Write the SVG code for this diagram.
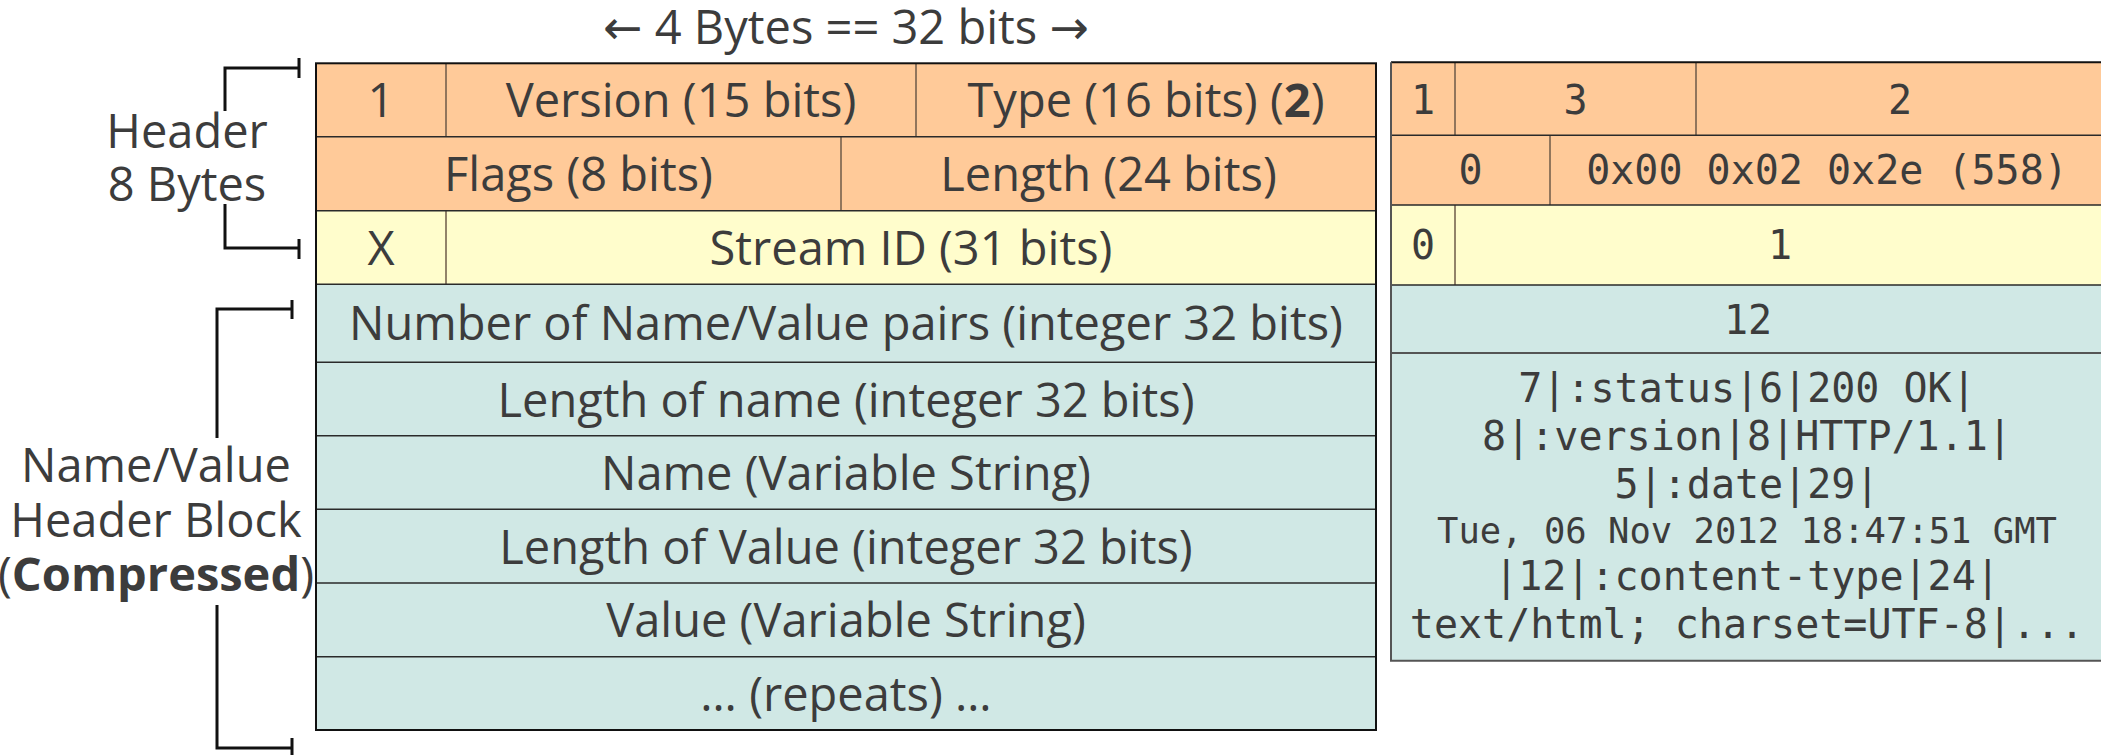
<svg xmlns="http://www.w3.org/2000/svg" width="2101" height="755" viewBox="0 0 2101 755">
<style>
.s{font-family:"Open Sans","Noto Sans","DejaVu Sans",sans-serif;font-size:47px;fill:#3c3c3c;text-anchor:middle}
.m{font-family:"DejaVu Sans Mono","Liberation Mono",monospace;font-size:40px;fill:#3c3c3c;text-anchor:middle}
.sm{font-size:35.5px}
.o{fill:#ffca99}
.y{fill:#fffdcc}
.c{fill:#d0e8e5}
.div{stroke:#6e5a48;stroke-width:1.5;fill:none}
.row{stroke:#2a2a2a;stroke-width:1.5;fill:none}
.edge{stroke:#111;stroke-width:2;fill:none}
.br{stroke:#111;stroke-width:3;fill:none}
</style>
<rect width="2101" height="755" fill="#ffffff"/>
<g id="title"><text class="s" x="846" y="44">← 4 Bytes == 32 bits →</text></g>
<g id="connectors">
<path class="br" d="M299,58 V78 M299,68 H225 V111 M225,204 V248 H299 M299,239 V259"/>
<path class="br" d="M292,300 V319 M292,309 H217 V438 M217,605 V748 H292 M292,738 V760"/>
</g>
<g id="label-header">
<text class="s" x="187" y="148">Header</text>
<text class="s" x="187" y="201">8 Bytes</text>
</g>
<g id="label-namevalue">
<text class="s" x="156" y="482">Name/Value</text>
<text class="s" x="156" y="537">Header Block</text>
<text class="s" x="156" y="591">(<tspan font-weight="bold">Compressed</tspan>)</text>
</g>
<g id="frame">
<g id="row1">
<rect class="o" x="316" y="63.3" width="1060" height="73.4"/>
<path class="div" d="M446,63.3 V136.7 M916,63.3 V136.7"/>
<text class="s" x="381" y="117">1</text>
<text class="s" x="681" y="117">Version (15 bits)</text>
<text class="s" x="1146" y="117">Type (16 bits) (<tspan font-weight="bold">2</tspan>)</text>
</g>
<g id="row2">
<rect class="o" x="316" y="136.7" width="1060" height="74"/>
<path class="div" d="M841,136.7 V210.7"/>
<text class="s" x="578.5" y="191">Flags (8 bits)</text>
<text class="s" x="1108.5" y="191">Length (24 bits)</text>
</g>
<g id="row3">
<rect class="y" x="316" y="210.7" width="1060" height="73.6"/>
<path class="div" d="M446,210.7 V284.3"/>
<text class="s" x="381" y="264.5">X</text>
<text class="s" x="911" y="264.5">Stream ID (31 bits)</text>
</g>
<g id="row4">
<rect class="c" x="316" y="284.3" width="1060" height="78"/>
<text class="s" x="846" y="339.5">Number of Name/Value pairs (integer 32 bits)</text>
</g>
<g id="row5">
<rect class="c" x="316" y="362.3" width="1060" height="73.4"/>
<text class="s" x="846" y="416.5">Length of name (integer 32 bits)</text>
</g>
<g id="row6">
<rect class="c" x="316" y="435.7" width="1060" height="73.6"/>
<text class="s" x="846" y="490">Name (Variable String)</text>
</g>
<g id="row7">
<rect class="c" x="316" y="509.3" width="1060" height="73.7"/>
<text class="s" x="846" y="563.5">Length of Value (integer 32 bits)</text>
</g>
<g id="row8">
<rect class="c" x="316" y="583" width="1060" height="73.7"/>
<text class="s" x="846" y="637">Value (Variable String)</text>
</g>
<g id="row9">
<rect class="c" x="316" y="656.7" width="1060" height="73.3"/>
<text class="s" x="846" y="711">… (repeats) …</text>
</g>
<path class="row" d="M316,136.7 H1376 M316,210.7 H1376 M316,284.3 H1376 M316,362.3 H1376 M316,435.7 H1376 M316,509.3 H1376 M316,583 H1376 M316,656.7 H1376"/>
<rect class="edge" x="316" y="63.3" width="1060" height="666.7"/>
</g>
<g id="example">
<g id="ex-row1">
<rect class="o" x="1391" y="62.3" width="720" height="73"/>
<path class="div" d="M1455,62.3 V135.3 M1696,62.3 V135.3"/>
<text class="m" x="1423" y="114">1</text>
<text class="m" x="1575.5" y="114">3</text>
<text class="m" x="1900" y="114">2</text>
</g>
<g id="ex-row2">
<rect class="o" x="1391" y="135.3" width="720" height="69.7"/>
<path class="div" d="M1550,135.3 V205"/>
<text class="m" x="1470.5" y="184">0</text>
<text class="m" x="1827" y="184">0x00 0x02 0x2e (558)</text>
</g>
<g id="ex-row3">
<rect class="y" x="1391" y="205" width="720" height="80"/>
<path class="div" d="M1455,205 V285"/>
<text class="m" x="1423" y="258.5">0</text>
<text class="m" x="1780" y="258.5">1</text>
</g>
<g id="ex-row4">
<rect class="c" x="1391" y="285" width="720" height="68"/>
<text class="m" x="1748" y="333.5">12</text>
</g>
<g id="ex-row5">
<rect class="c" x="1391" y="353" width="720" height="307.7"/>
<text class="m" x="1747" y="402">7|:status|6|200 OK|</text>
<text class="m" x="1747" y="450">8|:version|8|HTTP/1.1|</text>
<text class="m" x="1747" y="498">5|:date|29|</text>
<text class="m sm" x="1747" y="543">Tue, 06 Nov 2012 18:47:51 GMT</text>
<text class="m" x="1747" y="590">|12|:content-type|24|</text>
<text class="m" x="1747" y="638">text/html; charset=UTF-8|...</text>
</g>
<path class="row" d="M1391,135.3 H2101 M1391,205 H2101 M1391,285 H2101"/>
<path d="M1391,353 H2101" stroke="#555" stroke-width="2" fill="none"/>
<path d="M1391,62.3 H2101" stroke="#111" stroke-width="2" fill="none"/>
<path d="M1391,62.3 V660.7 H2101" stroke="#555" stroke-width="2" fill="none"/>
</g>
</svg>
